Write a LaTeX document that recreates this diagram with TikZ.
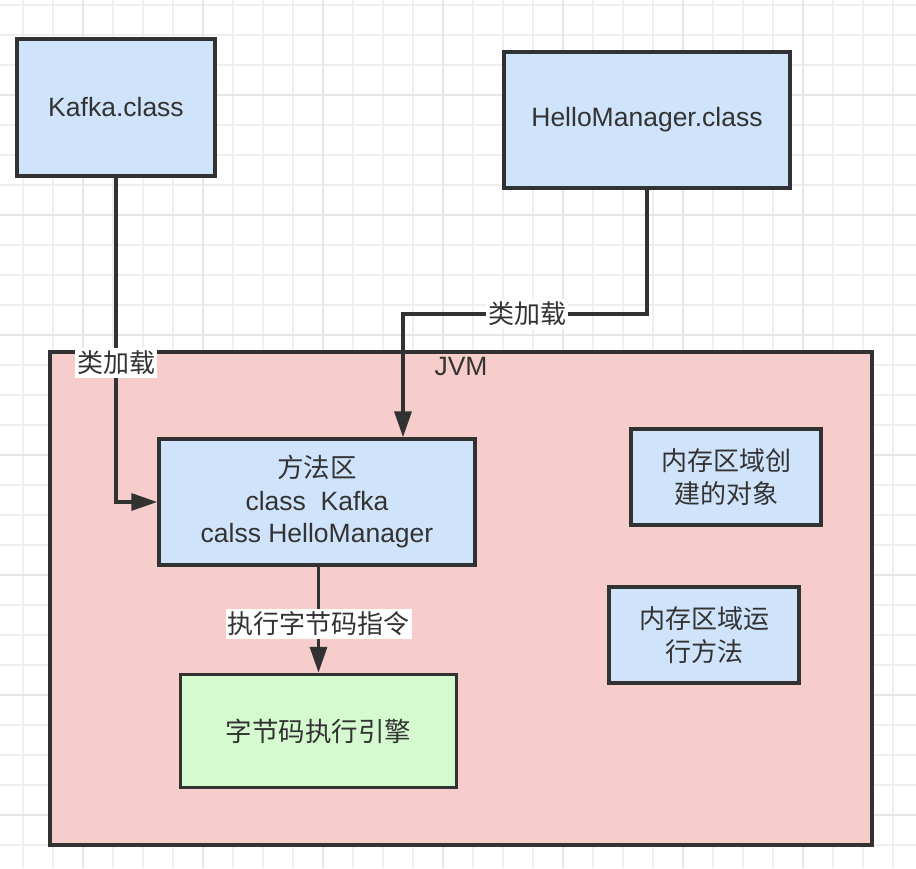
\documentclass[tikz,border=0pt]{standalone}
\usepackage{fontspec}
\setmainfont{Liberation Sans}
\newfontfamily\cjk{Noto Sans CJK SC}
\usepackage{tikz}
\usetikzlibrary{arrows.meta}
\definecolor{textgray}{HTML}{333333}
\definecolor{linegray}{HTML}{323232}
\definecolor{gridgray}{HTML}{EFEFEF}
\definecolor{gridmajorgray}{HTML}{E6E6E6}
\definecolor{boxblue}{HTML}{CFE3FA}
\definecolor{jvmpink}{HTML}{F7CDCC}
\definecolor{enginegreen}{HTML}{D5FAD0}

\begin{document}
\begin{tikzpicture}[%
            x=1pt, y=-1pt,
            every node/.style={font=\fontsize{26.5}{32.5}\selectfont, text=textgray},
            box/.style={draw=linegray, line width=3.5pt, align=center, inner sep=0pt},
            classbox/.style={box, fill=boxblue},
            jvmbox/.style={box, fill=jvmpink},
            enginebox/.style={box, fill=enginegreen},
            flow/.style={draw=linegray, line width=3.5pt, -{Triangle[length=26pt,width=17pt]}},
            edgelabel/.style={fill=white, inner xsep=2pt, inner ysep=3pt, font=\fontsize{26}{30}\selectfont\cjk},
            gridminor/.style={draw=gridgray, line width=2pt},
            gridmajor/.style={draw=gridmajorgray, line width=2.5pt},
        ]
        \useasboundingbox (0,0) rectangle (916,868);
        \fill[white] (0,0) rectangle (916,868);
        % grid
        \foreach \gx in {23,53,...,916} \draw[gridminor] (\gx,0) -- (\gx,868);
        \foreach \gy in {5,35,...,868} \draw[gridminor] (0,\gy) -- (916,\gy);
        \foreach \gx in {83,203,...,916} \draw[gridmajor] (\gx,0) -- (\gx,868);
        \foreach \gy in {95,215,...,868} \draw[gridmajor] (0,\gy) -- (916,\gy);

        \node[jvmbox, minimum width=822pt, minimum height=493pt] (jvm) at (461,598.5) {};
        \node (jvmname) at (461,367) {JVM};

        \node[classbox, minimum width=198pt, minimum height=137pt] (kafka) at (116,107.5) {Kafka.class};
        \node[classbox, minimum width=286pt, minimum height=136pt] (hello) at (647,120) {HelloManager.class};

        \node[classbox, minimum width=316pt, minimum height=126pt] (method) at (317,502)
            {{\cjk 方法区}\\class\ \ Kafka\\calss HelloManager};
        \node[enginebox, minimum width=276pt, minimum height=113pt] (engine) at (318.5,731)
            {\cjk 字节码执行引擎};
        \node[classbox, minimum width=190pt, minimum height=96pt, font=\fontsize{26}{33}\selectfont\cjk] (objects) at (726,477)
            {内存区域创\\建的对象};
        \node[classbox, minimum width=190pt, minimum height=96pt, font=\fontsize{26}{33}\selectfont\cjk] (running) at (704,635)
            {内存区域运\\行方法};

        \coordinate (hellobend) at (403,314);
        \draw[flow] (kafka.south) -- node[edgelabel, pos=0.57] {类加载} (kafka.south |- method.west) -- (method.west);
        \draw[flow] (hello.south) |- node[edgelabel, pos=0.745] {类加载} (hellobend) -- (hellobend |- method.north);
        \draw[flow] (method.south -| engine.north) -- node[edgelabel, pos=0.54] {执行字节码指令} (engine.north);
    \end{tikzpicture}
\end{document}
